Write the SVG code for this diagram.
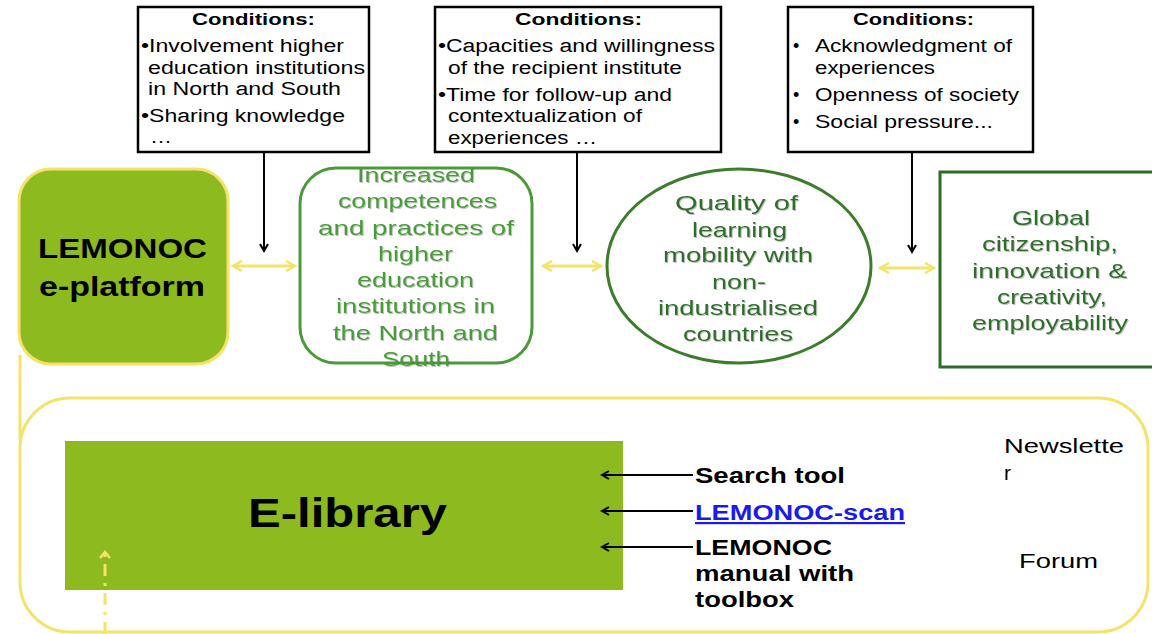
<svg xmlns="http://www.w3.org/2000/svg" width="1152" height="634" viewBox="0 0 1152 634">
<style>
text{font-family:"Liberation Sans",Arial,sans-serif}
.cond{fill:#fff;stroke:#000;stroke-width:2.5}
.ct{font-size:17px;font-weight:bold}
.bt{font-size:18px}
.g1{fill:#4a9a3a;font-size:21px;filter:url(#sh)}
.g2{fill:#2f6e2a;font-size:21px;filter:url(#sh)}
.blk{stroke:#000;stroke-width:2;fill:none}
.yel{stroke:#f3e36a;stroke-width:3;fill:none}
.lbl{font-size:22px;font-weight:bold}
.reg{font-size:21px}
</style>
<defs>
<filter id="sh" x="-10%" y="-30%" width="120%" height="160%"><feDropShadow dx="1" dy="1" stdDeviation="0.6" flood-color="#000" flood-opacity="0.25"/></filter>
<marker id="ah" markerWidth="10" markerHeight="10" refX="8" refY="5" orient="auto" markerUnits="userSpaceOnUse"><path d="M1,1 L8,5 L1,9" fill="none" stroke="#000" stroke-width="2"/></marker>
<marker id="ay" markerWidth="12" markerHeight="12" refX="10" refY="6" orient="auto-start-reverse" markerUnits="userSpaceOnUse"><path d="M1,1 L10,6 L1,11" fill="none" stroke="#f3e36a" stroke-width="2.5"/></marker>
<marker id="ayd" markerWidth="12" markerHeight="12" refX="6" refY="2" orient="0" markerUnits="userSpaceOnUse"><path d="M1,8 L6,2 L11,8" fill="none" stroke="#f3e36a" stroke-width="2.5"/></marker>
</defs>

<g id="connectors">
<line class="yel" x1="20" y1="355" x2="20" y2="440"/>
<line class="blk" x1="264" y1="152" x2="264" y2="251" marker-end="url(#ah)"/>
<line class="blk" x1="577" y1="152" x2="577" y2="251" marker-end="url(#ah)"/>
<line class="blk" x1="912" y1="152" x2="912" y2="252" marker-end="url(#ah)"/>
<line class="yel" x1="233" y1="266" x2="295" y2="266" marker-start="url(#ay)" marker-end="url(#ay)"/>
<line class="yel" x1="543" y1="266" x2="601" y2="266" marker-start="url(#ay)" marker-end="url(#ay)"/>
<line class="yel" x1="880" y1="268" x2="934" y2="268" marker-start="url(#ay)" marker-end="url(#ay)"/>
</g>

<g id="cond1">
<rect class="cond" x="138" y="7" width="231" height="145"/>
<text class="ct" x="192" y="25" textLength="123" lengthAdjust="spacingAndGlyphs">Conditions:</text>
<text class="bt" x="141" y="52" textLength="203" lengthAdjust="spacingAndGlyphs">•Involvement higher</text>
<text class="bt" x="148" y="74" textLength="217" lengthAdjust="spacingAndGlyphs">education institutions</text>
<text class="bt" x="148" y="95" textLength="193" lengthAdjust="spacingAndGlyphs">in North and South</text>
<text class="bt" x="141" y="122" textLength="204" lengthAdjust="spacingAndGlyphs">•Sharing knowledge</text>
<text class="bt" x="150" y="143" textLength="22" lengthAdjust="spacingAndGlyphs">…</text>
</g>

<g id="cond2">
<rect class="cond" x="435" y="7" width="286" height="145"/>
<text class="ct" x="515" y="25" textLength="127" lengthAdjust="spacingAndGlyphs">Conditions:</text>
<text class="bt" x="438" y="52" textLength="277" lengthAdjust="spacingAndGlyphs">•Capacities and willingness</text>
<text class="bt" x="448" y="74" textLength="234" lengthAdjust="spacingAndGlyphs">of the recipient institute</text>
<text class="bt" x="438" y="101" textLength="234" lengthAdjust="spacingAndGlyphs">•Time for follow-up and</text>
<text class="bt" x="448" y="122" textLength="194" lengthAdjust="spacingAndGlyphs">contextualization of</text>
<text class="bt" x="448" y="144" textLength="149" lengthAdjust="spacingAndGlyphs">experiences …</text>
</g>

<g id="cond3">
<rect class="cond" x="788" y="7" width="245" height="145"/>
<text class="ct" x="853" y="25" textLength="121" lengthAdjust="spacingAndGlyphs">Conditions:</text>
<text class="bt" x="793" y="52">•</text>
<text class="bt" x="815" y="52" textLength="197" lengthAdjust="spacingAndGlyphs">Acknowledgment of</text>
<text class="bt" x="815" y="74" textLength="120" lengthAdjust="spacingAndGlyphs">experiences</text>
<text class="bt" x="793" y="101">•</text>
<text class="bt" x="815" y="101" textLength="204" lengthAdjust="spacingAndGlyphs">Openness of society</text>
<text class="bt" x="793" y="128">•</text>
<text class="bt" x="815" y="128" textLength="178" lengthAdjust="spacingAndGlyphs">Social pressure...</text>
</g>

<g id="eplatform">
<rect x="19" y="169" width="209" height="195" rx="32" fill="#8dba1f" stroke="#f3e36a" stroke-width="3"/>
<text x="38" y="258" font-size="27" font-weight="bold" textLength="169" lengthAdjust="spacingAndGlyphs">LEMONOC</text>
<text x="39" y="296" font-size="27" font-weight="bold" textLength="166" lengthAdjust="spacingAndGlyphs">e-platform</text>
</g>

<g id="competences">
<rect x="300" y="168" width="232" height="195" rx="36" fill="#fff" stroke="#4a9a3a" stroke-width="3"/>
<text class="g1" x="357" y="182" textLength="118" lengthAdjust="spacingAndGlyphs">Increased</text>
<text class="g1" x="338" y="208" textLength="159" lengthAdjust="spacingAndGlyphs">competences</text>
<text class="g1" x="318" y="235" textLength="196" lengthAdjust="spacingAndGlyphs">and practices of</text>
<text class="g1" x="378" y="261" textLength="75" lengthAdjust="spacingAndGlyphs">higher</text>
<text class="g1" x="357" y="287" textLength="117" lengthAdjust="spacingAndGlyphs">education</text>
<text class="g1" x="336" y="313" textLength="159" lengthAdjust="spacingAndGlyphs">institutions in</text>
<text class="g1" x="333" y="340" textLength="165" lengthAdjust="spacingAndGlyphs">the North and</text>
<text class="g1" x="382" y="366" textLength="68" lengthAdjust="spacingAndGlyphs">South</text>
</g>

<g id="quality">
<ellipse cx="739" cy="266" rx="132" ry="97" fill="#fff" stroke="#3b7d2a" stroke-width="3"/>
<text class="g2" x="675" y="210" textLength="123" lengthAdjust="spacingAndGlyphs">Quality of</text>
<text class="g2" x="692" y="237" textLength="95" lengthAdjust="spacingAndGlyphs">learning</text>
<text class="g2" x="663" y="262" textLength="150" lengthAdjust="spacingAndGlyphs">mobility with</text>
<text class="g2" x="712" y="289" textLength="54" lengthAdjust="spacingAndGlyphs">non-</text>
<text class="g2" x="658" y="315" textLength="160" lengthAdjust="spacingAndGlyphs">industrialised</text>
<text class="g2" x="683" y="341" textLength="110" lengthAdjust="spacingAndGlyphs">countries</text>
</g>

<g id="global">
<rect x="940" y="172" width="220" height="195" fill="#fff" stroke="#2e6b2a" stroke-width="3"/>
<text class="g2" x="1012" y="225" textLength="78" lengthAdjust="spacingAndGlyphs">Global</text>
<text class="g2" x="982" y="251" textLength="136" lengthAdjust="spacingAndGlyphs">citizenship,</text>
<text class="g2" x="972" y="278" textLength="155" lengthAdjust="spacingAndGlyphs">innovation &amp;</text>
<text class="g2" x="997" y="304" textLength="110" lengthAdjust="spacingAndGlyphs">creativity,</text>
<text class="g2" x="972" y="330" textLength="156" lengthAdjust="spacingAndGlyphs">employability</text>
</g>

<g id="platformarea">
<rect x="20" y="398" width="1128" height="234" rx="50" fill="none" stroke="#f3e36a" stroke-width="3"/>
</g>

<g id="elibrary">
<rect x="65" y="441" width="558" height="149" fill="#8dba1f"/>
<text x="248" y="527" font-size="41" font-weight="bold" textLength="199" lengthAdjust="spacingAndGlyphs">E-library</text>
</g>

<g id="connectors2">
<line x1="105" y1="634" x2="105" y2="552" stroke="#f3e36a" stroke-width="3" stroke-dasharray="12,7,3,7" marker-end="url(#ayd)"/>
<line class="blk" x1="693" y1="475" x2="602" y2="475" marker-end="url(#ah)"/>
<line class="blk" x1="693" y1="511" x2="602" y2="511" marker-end="url(#ah)"/>
<line class="blk" x1="693" y1="547" x2="602" y2="547" marker-end="url(#ah)"/>
</g>

<g id="searchtool"><text class="lbl" x="695" y="483" textLength="150" lengthAdjust="spacingAndGlyphs">Search tool</text></g>
<g id="scan"><text class="lbl" x="695" y="520" fill="#1a1aee" text-decoration="underline" textLength="210" lengthAdjust="spacingAndGlyphs">LEMONOC-scan</text></g>
<g id="manual">
<text class="lbl" x="695" y="555" textLength="137" lengthAdjust="spacingAndGlyphs">LEMONOC</text>
<text class="lbl" x="695" y="581" textLength="159" lengthAdjust="spacingAndGlyphs">manual with</text>
<text class="lbl" x="695" y="607" textLength="99" lengthAdjust="spacingAndGlyphs">toolbox</text>
</g>
<g id="newsletter">
<text class="reg" x="1004" y="453" textLength="120" lengthAdjust="spacingAndGlyphs">Newslette</text>
<text class="reg" x="1004" y="480">r</text>
</g>
<g id="forum"><text class="reg" x="1019" y="568" textLength="79" lengthAdjust="spacingAndGlyphs">Forum</text></g>
</svg>
